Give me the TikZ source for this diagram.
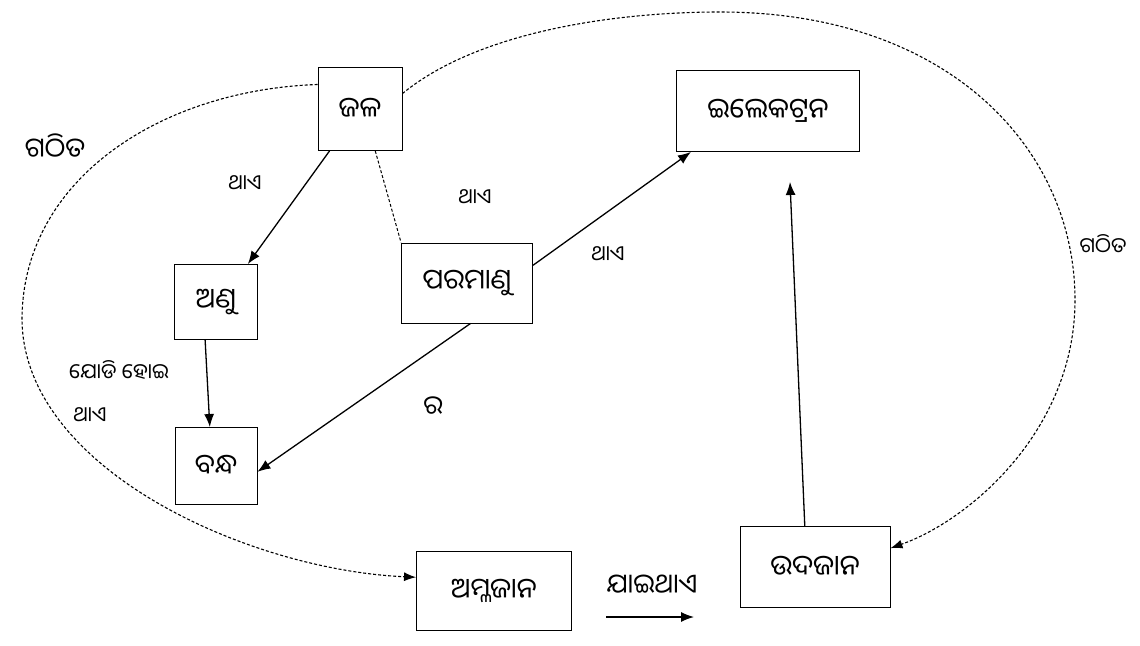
\documentclass[tikz,border=0pt]{standalone}
\usepackage{fontspec}
\newfontfamily\odia[Script=Oriya]{Noto Sans Oriya UI}
\usetikzlibrary{arrows.meta}

\begin{document}
\begin{tikzpicture}[x=1pt,y=-1pt]
		\tikzstyle{every node}+=[inner sep=0pt]
		\tikzstyle{box}=[draw=black, line width=0.9pt, rectangle, font=\odia\fontsize{28}{32}\selectfont]
		\tikzstyle{lbl}=[font=\odia\fontsize{21}{24}\selectfont]
		\tikzstyle{arr}=[black, line width=1.3pt, -{Latex[length=13pt,width=10pt]}]
		\tikzstyle{rim}=[black, line width=1.1pt, densely dashed]
		\useasboundingbox (0,0) rectangle (1140,645);
		\node [box, minimum width=84, minimum height=83] (jal) at (360,109) {ଜଳ};
		\node [box, minimum width=183, minimum height=81] (ilektran) at (768,111) {ଇଲେକଟ୍ରନ};
		\node [box, minimum width=83, minimum height=75] (anu) at (216,302) {ଅଣୁ};
		\node [box, minimum width=131, minimum height=80] (paramanu) at (467,283) {ପରମାଣୁ};
		\node [box, minimum width=82, minimum height=77] (bandha) at (216,466) {ବନ୍ଧ};
		\node [box, minimum width=155, minimum height=79] (amlajan) at (494,591) {ଅମ୍ଳଜାନ};
		\node [box, minimum width=150, minimum height=81] (udajan) at (815,567) {ଉଦଜାନ};
		\coordinate (etip) at (790,182);
		\coordinate (gostart) at (606,617);
		\coordinate (goend) at (694,617);
		% outer rim
		\draw [rim, -{Latex[length=12pt,width=9pt]}] (jal.150) .. controls (160,90) and (22,180) .. (22,320)
			.. controls (24,470) and (250,570) .. (amlajan.170);
		\draw [rim, -{Latex[length=12pt,width=9pt]}] (jal.20) .. controls (480,30) and (620,12) .. (720,12)
			.. controls (950,12) and (1075,150) .. (1075,300)
			.. controls (1075,430) and (970,520) .. (udajan.14);
		% links
		\draw [arr] (jal.234) -- (anu.50);
		\draw [black, line width=1pt, densely dashed] (jal.290) -- (paramanu.north west);
		\draw [arr] (paramanu.15) -- (ilektran.208);
		\draw [arr] (paramanu.275) -- (bandha.352);
		\draw [arr] (anu.254) -- (bandha.99);
		\draw [arr] (udajan.104) -- (etip);
		\draw [arr] (gostart) -- (goend);
		% labels
		\node [lbl, font=\odia\fontsize{27}{30}\selectfont] (gathita1) at (55,147) {ଗଠିତ};
		\node [lbl] (gathita2) at (1103,245) {ଗଠିତ};
		\node [lbl] (thae1) at (245,184) {ଥାଏ};
		\node [lbl] (thae2) at (475,198) {ଥାଏ};
		\node [lbl] (thae3) at (608,255) {ଥାଏ};
		\node [lbl] (jodi) at (119,370) {ଯୋଡି ହୋଇ};
		\node [lbl] (thae4) at (90,416) {ଥାଏ};
		\node [lbl, font=\odia\fontsize{26}{30}\selectfont] (ra) at (433,407) {ର};
		\node [lbl, font=\odia\fontsize{27}{30}\selectfont] (jaithae) at (652,585) {ଯାଇଥାଏ};
\end{tikzpicture}
\end{document}
